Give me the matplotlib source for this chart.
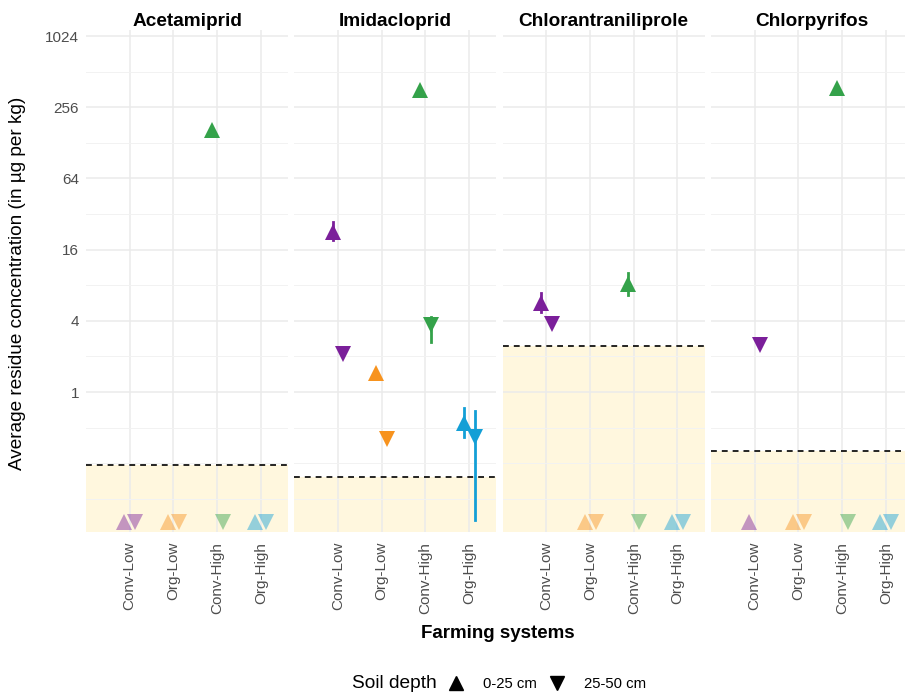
import numpy as np
import matplotlib
matplotlib.use("Agg")
import matplotlib.pyplot as plt
from matplotlib.lines import Line2D

plt.rcParams["font.family"] = ["Liberation Sans", "DejaVu Sans"]

pesticides = ["Acetamiprid", "Imidacloprid", "Chlorantraniliprole", "Chlorpyrifos"]
systems = ["Conv-Low", "Org-Low", "Conv-High", "Org-High"]
colors = ["#7B1F9A", "#F7931E", "#34A24A", "#139FD6"]

# limit of quantification per pesticide (dashed line)
loq = [0.24, 0.19, 2.45, 0.32]

# mean residue per system, NaN = below LOQ (drawn faded at the floor)
top_mean = [
    [np.nan, np.nan, 164, np.nan],
    [22.5, 1.45, 357, 0.55],
    [5.66, np.nan, 8.2, np.nan],
    [np.nan, np.nan, 372, np.nan],
]
top_low = [
    [np.nan, np.nan, np.nan, np.nan],
    [19.3, np.nan, np.nan, 0.42],
    [4.75, np.nan, 6.6, np.nan],
    [np.nan, np.nan, np.nan, np.nan],
]
top_high = [
    [np.nan, np.nan, np.nan, np.nan],
    [27.4, np.nan, np.nan, 0.73],
    [6.9, np.nan, 10.1, np.nan],
    [np.nan, np.nan, np.nan, np.nan],
]
sub_mean = [
    [np.nan, np.nan, np.nan, np.nan],
    [2.1, 0.40, 3.7, 0.42],
    [3.8, np.nan, np.nan, np.nan],
    [2.5, np.nan, np.nan, np.nan],
]
sub_low = [
    [np.nan, np.nan, np.nan, np.nan],
    [np.nan, np.nan, 2.65, 0.083],
    [np.nan, np.nan, np.nan, np.nan],
    [np.nan, np.nan, np.nan, np.nan],
]
sub_high = [
    [np.nan, np.nan, np.nan, np.nan],
    [np.nan, np.nan, 4.3, 0.69],
    [np.nan, np.nan, np.nan, np.nan],
    [np.nan, np.nan, np.nan, np.nan],
]

FLOOR = 0.08
YMIN, YMAX = 2 ** -3.93, 2 ** 10.17
W, H = 905, 695

fig = plt.figure(figsize=(W / 100, H / 100), dpi=100)

x = np.arange(len(systems))
dodge = 0.125

for i, name in enumerate(pesticides):
    left = 86 + i * 208.3
    ax = fig.add_axes([left / W, (H - 532) / H, 202 / W, 502 / H])
    ax.set_yscale("log", base=2)
    ax.set_ylim(YMIN, YMAX)
    ax.set_xlim(-1.0, 3.62)

    ax.set_yticks([1, 4, 16, 64, 256, 1024])
    ax.set_yticks([0.125, 0.25, 0.5, 2, 8, 32, 128, 512], minor=True)
    ax.yaxis.set_major_formatter(plt.FuncFormatter(lambda v, p: f"{v:g}"))
    ax.yaxis.set_minor_formatter(plt.NullFormatter())
    ax.set_xticks(x)
    ax.set_xticklabels(systems, rotation=90, fontsize=11, color="#4D4D4D")
    ax.tick_params(which="both", length=0)
    ax.tick_params(axis="x", pad=7)
    ax.tick_params(axis="y", labelsize=11, labelcolor="#4D4D4D", pad=5)
    if i > 0:
        ax.tick_params(axis="y", labelleft=False)

    ax.grid(True, which="major", color="#EBEBEB", linewidth=1.1, zorder=0)
    ax.grid(True, which="minor", axis="y", color="#F2F2F2", linewidth=0.7, zorder=0)
    for s in ax.spines.values():
        s.set_visible(False)

    ax.axhspan(YMIN, loq[i], color="#FFF0BE", alpha=0.5, zorder=1, linewidth=0)
    ax.axhline(loq[i], color="black", linestyle=(0, (3.5, 3)), linewidth=1.2, zorder=2)

    ax.set_title(name, fontsize=13.7, fontweight="bold", pad=3)

    for j in range(len(systems)):
        for mean, lo, hi, mk, off in [
            (top_mean, top_low, top_high, "^", -dodge),
            (sub_mean, sub_low, sub_high, "v", dodge),
        ]:
            v = mean[i][j]
            xp = x[j] + off
            if np.isnan(v):
                ax.plot(xp, FLOOR, marker=mk, markersize=11, color=colors[j],
                        alpha=0.45, markeredgewidth=0, linestyle="none", zorder=3)
                continue
            if not np.isnan(lo[i][j]):
                ax.plot([xp, xp], [lo[i][j], hi[i][j]], color=colors[j],
                        linewidth=2, zorder=3)
            ax.plot(xp, v, marker=mk, markersize=11, color=colors[j],
                    markeredgewidth=0, linestyle="none", zorder=4)

fig.text(18 / W, 1 - 283 / H, "Average residue concentration (in µg per kg)",
         rotation=90, ha="center", va="center", fontsize=13.7)
fig.text(498 / W, 1 - 633 / H, "Farming systems", ha="center", va="center",
         fontsize=13.5, fontweight="bold")

fig.text(352 / W, 1 - 684 / H, "Soil depth", ha="left", va="center", fontsize=13.8)
handles = [
    Line2D([], [], marker="^", color="black", linestyle="none", markersize=9.5),
    Line2D([], [], marker="v", color="black", linestyle="none", markersize=9.5),
]
fig.legend(handles, ["0-25 cm", "25-50 cm"], ncol=2, frameon=False,
           loc="center left", bbox_to_anchor=(447 / W, 1 - 684 / H),
           borderpad=0, borderaxespad=0,
           fontsize=10.7, handlelength=1.2, handletextpad=1.2, columnspacing=0.8)

fig.savefig("out.png", dpi=100, facecolor="white")
